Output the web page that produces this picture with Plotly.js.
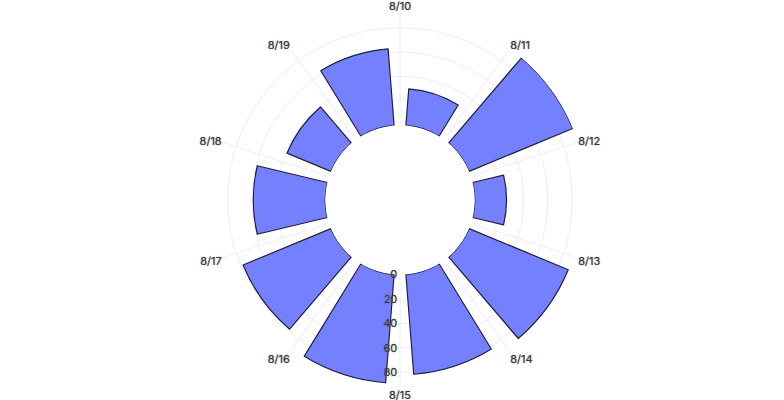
<!DOCTYPE html>
<html>
<head>
<meta charset="utf-8">
<script src="https://cdn.plot.ly/plotly-3.0.1.min.js"></script>
<style>
  html, body { margin: 0; padding: 0; background: #fff; }
  #plot { width: 784px; height: 400px; }
  /* softer joins on the bar outlines */
  #plot .barlayer path { stroke-linejoin: round; }
</style>
</head>
<body>
<div id="plot"></div>
<script>
var days = ['8/10', '8/11', '8/12', '8/13', '8/14', '8/15', '8/16', '8/17', '8/18', '8/19'];
var counts = [30, 92, 26, 88, 82, 89, 78, 59, 39, 63];
var radialTicks = [0, 20, 40, 60, 80];

var trace = {
  type: 'barpolar',
  theta: days,
  r: counts,
  width: 0.75,
  offset: 0.125,
  marker: {
    color: '#7580ff',
    line: { color: '#20203c', width: 1.2 }
  },
  hoverinfo: 'theta+r'
};

var labelFont = { family: 'Inter, sans-serif', size: 11, color: '#3a3a3a', shadow: '0px 0px 1.2px #666' };

var layout = {
  width: 784,
  height: 400,
  margin: { l: 96, r: 80, t: 13, b: 13 },
  paper_bgcolor: '#fff',
  showlegend: false,
  font: { family: 'Inter, sans-serif', size: 11, color: '#444' },
  polar: {
    hole: 0.4,
    bgcolor: '#fff',
    radialaxis: {
      range: [0, 92],
      angle: -90,
      tickvals: radialTicks,
      tickangle: -90,
      showline: false,
      ticks: '',
      gridcolor: '#eeeeee',
      tickfont: labelFont
    },
    angularaxis: {
      type: 'category',
      categoryarray: days,
      direction: 'clockwise',
      rotation: 90,
      showline: false,
      ticks: '',
      gridcolor: '#eeeeee',
      tickfont: labelFont
    }
  }
};

Plotly.newPlot('plot', [trace], layout, { displayModeBar: false, staticPlot: true });
</script>
</body>
</html>
